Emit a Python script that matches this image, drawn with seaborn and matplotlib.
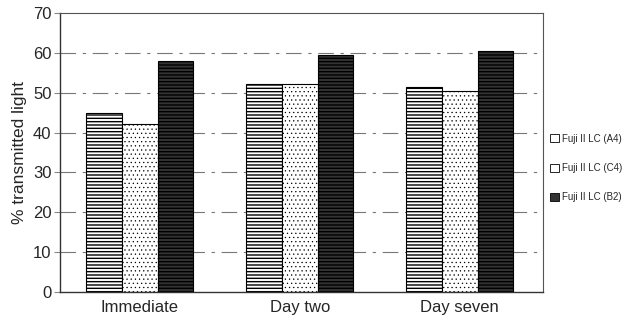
import matplotlib
matplotlib.use("Agg")
import matplotlib.pyplot as plt
import seaborn as sns
import pandas as pd

# data
times = ["Immediate", "Day two", "Day seven"]
shades = ["Fuji II LC (A4)", "Fuji II LC (C4)", "Fuji II LC (B2)"]
a4_values = [45.0, 52.2, 51.4]
c4_values = [42.1, 52.2, 50.5]
b2_values = [58.1, 59.4, 60.4]
y_ticks = [0, 10, 20, 30, 40, 50, 60, 70]

df = pd.DataFrame({
    "time": times * 3,
    "shade": [shades[0]] * 3 + [shades[1]] * 3 + [shades[2]] * 3,
    "value": a4_values + c4_values + b2_values,
})

sns.set_theme(style="white")
plt.rcParams["font.family"] = ["Liberation Sans", "DejaVu Sans"]
plt.rcParams["hatch.linewidth"] = 1.0

fig = plt.figure(figsize=(6.24, 3.2), dpi=100)
ax = fig.add_axes([0.096, 0.0875, 0.774, 0.8715])

sns.barplot(data=df, x="time", y="value", hue="shade", order=times,
            hue_order=shades, width=0.67, gap=0, ax=ax, legend=False,
            edgecolor="black", linewidth=0.8)

styles = [
    {"face": "white", "hatch": "-----", "hcolor": "#555555", "hlw": 1.0},
    {"face": "white", "hatch": "....", "hcolor": "#999999", "hlw": 0.4},
    {"face": "#333333", "hatch": "-----", "hcolor": "#dddddd", "hlw": 1.0},
]
for container, st in zip(ax.containers, styles):
    for bar in container:
        bar.set_facecolor(st["face"])
        bar.set_hatch(st["hatch"])
        bar._hatch_color = matplotlib.colors.to_rgba(st["hcolor"])
        if hasattr(bar, "set_hatch_linewidth"):
            bar.set_hatch_linewidth(st["hlw"])
        bar.set_edgecolor("black")

ax.set_ylim(0, 70)
ax.set_xlim(-0.5, 2.52)
ax.set_yticks(y_ticks)
ax.set_yticklabels([str(t) for t in y_ticks], fontsize=12)
ax.tick_params(axis="x", labelsize=12, length=0, pad=6)
ax.tick_params(axis="y", length=4, width=0.8, color="#888888", pad=2, left=True)
ax.set_xlabel("")
ax.set_ylabel("% transmitted light", fontsize=12.5, labelpad=4)

for t in y_ticks[1:-1]:
    ax.axhline(t, color="#777777", lw=0.8, ls=(0, (14, 6, 3, 6)), zorder=0)
ax.set_axisbelow(True)

for side in ["left", "bottom"]:
    ax.spines[side].set_color("#333333")
    ax.spines[side].set_linewidth(1.0)
for side in ["top", "right"]:
    ax.spines[side].set_visible(True)
    ax.spines[side].set_color("#555555")
    ax.spines[side].set_linewidth(0.8)

handles = []
for name, st in zip(shades, styles):
    handles.append(matplotlib.patches.Patch(facecolor=st["face"], edgecolor="black",
                                            label=name, linewidth=0.6))
fig.legend(handles=handles, loc="center left", bbox_to_anchor=(0.868, 0.475),
           frameon=False, fontsize=7, handlelength=0.9, handleheight=0.9,
           handletextpad=0.3, labelspacing=2.0)

fig.savefig("out.png", dpi=100)
plt.close(fig)
